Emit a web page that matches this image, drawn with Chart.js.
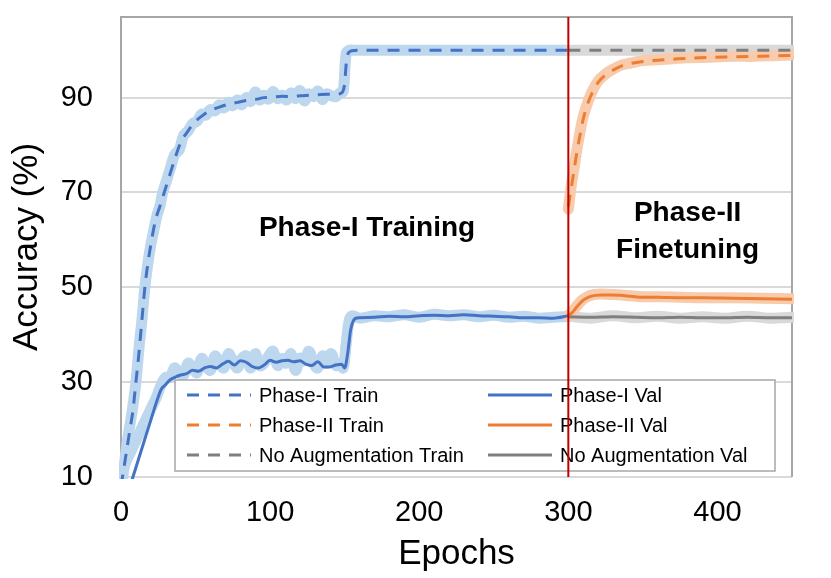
<!DOCTYPE html>
<html lang="en">
<head>
<meta charset="UTF-8">
<title>Accuracy vs Epochs</title>
<script src="https://cdn.jsdelivr.net/npm/chart.js"></script>
<style>
  html, body { margin: 0; padding: 0; background: #fff; }
  #wrap { width: 831px; height: 578px; }
</style>
</head>
<body>
<div id="wrap"><canvas id="accChart" width="831" height="578"></canvas></div>
<script>
// ---- data ----
const phaseSwitch = 300;
const xTicks = [0, 100, 200, 300, 400];
const yTicks = [10, 30, 50, 70, 90];

// Phase-I train (smoothed, dashed) and raw (light band)
const p1TrainEpochs = [0,2,4,6,8,10,12,14,16,18,20,23,26,29,32,36,40,45,50,55,60,66,72,78,84,90,96,102,108,114,120,126,132,138,144,148,150,151,152,153,155,160,200,250,300];
const p1TrainAcc    = [8,12,16,20,24,30,36,43,50,55,59,64,67,70,73,77,80.5,83,85,86.3,87.3,88,88.6,89,89.4,89.6,90,90.1,90.3,90.2,90.4,90.5,90.6,90.7,90.7,91,93,97,99,99.6,99.9,100,100,100,100];
const p1TrainRawEpochs = [0,2,4,6,8,10,12,14,16,18,20,22,24,26,28,30,33,36,39,42,45,48,51,54,57,60,63,66,69,72,75,78,81,84,87,90,93,96,99,102,105,108,111,114,117,120,123,126,129,132,135,138,141,144,147,149,151,153,156,160,200,250,300];
const p1TrainRawAcc    = [7,12,17,21,25,30,37,43,50,55,59,62,65,67,70,72,75,78,79,82,83,84.5,85,86.5,86.3,87.5,87.2,88.5,87.8,89,88.3,89.5,88.5,90,89.2,91.2,89.5,90.5,89.7,91.3,89.8,90.5,89.5,91,89.8,91.5,89.3,90.8,90.2,91.4,89.6,90.8,90.4,90.2,91,91.3,99.3,100,100,100,100,100,100];

// Phase-I val
const p1ValEpochs = [0,4,8,12,16,20,24,27,30,33,36,40,44,48,52,56,60,64,68,72,76,80,84,88,92,96,100,104,108,112,116,120,124,128,132,136,140,144,148,150,152,154,157,160,170,180,190,200,210,220,230,240,250,260,270,280,290,300];
const p1ValAcc    = [2,6,10,14,18,22,26,28.5,29.5,30.5,31,31.5,31.8,32.5,32.3,33,33.3,33,33.8,34.4,33.6,34.5,34.2,33.3,33,33.6,34.6,34.2,34.5,34.6,34.3,34.5,33.8,33.5,34.3,33.2,33.2,33.6,33.8,33,36,41,43.4,43.6,43.7,43.9,43.8,44,44.1,44,44.2,44,43.9,43.8,43.6,43.6,43.5,44];
const p1ValRawEpochs = [0,3,6,9,12,15,18,21,24,27,30,33,36,39,42,45,48,51,54,57,60,63,66,69,72,75,78,81,84,87,90,93,96,99,102,105,108,111,114,117,120,123,126,129,132,135,138,141,144,147,149,151,153,155,160,170,180,190,200,210,220,230,240,250,260,270,280,290,300];
const p1ValRawAcc    = [10,13,15,17,19,21,23,25,27,29.5,31,31,33,32,31.5,34,33,32,35,33.5,32.5,35.5,34,33,36,34.5,33,35,35.5,33,36,33.5,34,35.5,36.5,33.5,35,34,36,32.5,35,34.5,36.5,34,33,35.5,34,36,33.5,34,33,38,43,44,43.5,44,43.8,44.2,43.7,44.3,44,44.2,43.8,44.1,43.7,43.9,43.5,43.7,43.8];

// Phase-II train / val
const p2TrainEpochs = [300,302,304,306,308,310,313,316,320,325,330,336,342,350,360,370,380,395,410,425,440,450];
const p2TrainAcc    = [67,71,75,79,82.4,85.5,88.7,91,93.2,94.8,95.8,96.7,97.2,97.6,97.9,98.1,98.3,98.5,98.6,98.7,98.8,98.9];
const p2TrainRawAcc = [66.5,71.5,75.5,79.5,83,86,89,91.3,93.5,95,96,96.9,97.3,97.8,98,98.2,98.4,98.5,98.7,98.7,98.9,99];
const p2ValEpochs = [300,303,306,310,314,318,322,328,335,342,350,360,375,390,410,430,450];
const p2ValAcc    = [44,44.8,46,47.3,48,48.3,48.4,48.4,48.3,48.1,47.9,47.9,47.8,47.8,47.7,47.6,47.5];
const p2ValRawAcc = [44,45,46.2,47.5,48.2,48.5,48.6,48.5,48.4,48.2,48,48,47.9,47.8,47.8,47.7,47.6];

// No augmentation (visible after the switch)
const noAugEpochs   = [300,315,330,345,360,375,390,405,420,435,450];
const noAugTrainAcc = [100,100,100,100,100,100,100,100,100,100,100];
const noAugValAcc   = [43.8,43.7,43.8,43.7,43.6,43.7,43.6,43.6,43.7,43.6,43.6];
const noAugValRaw   = [43.9,43.5,44,43.6,43.9,43.5,43.8,43.5,43.9,43.5,43.7];

const legendLabels = ['Phase-I Train', 'Phase-II Train', 'No Augmentation Train',
                      'Phase-I Val', 'Phase-II Val', 'No Augmentation Val'];

// ---- colours ----
const BLUE = '#4472c4', ORANGE = '#ed7d31', GRAY = '#7f7f7f';
const BLUE_L = '#bdd7ee', ORANGE_L = '#f8cbad', GRAY_L = '#d9d9d9';
const DASH = [12, 9];

function pts(xs, ys) { return xs.map((x, i) => ({ x: x, y: ys[i] })); }

function line(label, xs, ys, color, dashed) {
  return {
    label: label, data: pts(xs, ys), borderColor: color, borderWidth: 3,
    borderDash: dashed ? DASH : [], pointRadius: 0, tension: 0.3,
    cubicInterpolationMode: 'monotone', fill: false, clip: 2
  };
}
function band(xs, ys, color) {
  return {
    label: '', data: pts(xs, ys), borderColor: color, borderWidth: 11,
    borderCapStyle: 'round', borderJoinStyle: 'round', pointRadius: 0,
    tension: 0.4, fill: false, clip: 2
  };
}

// index 0 is drawn last (on top)
const datasets = [
  { label: '', data: [{ x: phaseSwitch, y: 10 }, { x: phaseSwitch, y: 107 }],
    borderColor: '#c00000', borderWidth: 2, pointRadius: 0, clip: 0 },
  line(legendLabels[0], p1TrainEpochs, p1TrainAcc, BLUE, true),
  line(legendLabels[1], p2TrainEpochs, p2TrainAcc, ORANGE, true),
  line(legendLabels[2], noAugEpochs, noAugTrainAcc, GRAY, true),
  line(legendLabels[3], p1ValEpochs, p1ValAcc, BLUE, false),
  line(legendLabels[4], p2ValEpochs, p2ValAcc, ORANGE, false),
  line(legendLabels[5], noAugEpochs, noAugValAcc, GRAY, false),
  band(p2TrainEpochs, p2TrainRawAcc, ORANGE_L),
  band(p2ValEpochs, p2ValRawAcc, ORANGE_L),
  band(noAugEpochs, noAugValRaw, GRAY_L),
  band(noAugEpochs, noAugTrainAcc, GRAY_L),
  band(p1ValRawEpochs, p1ValRawAcc, BLUE_L),
  band(p1TrainRawEpochs, p1TrainRawAcc, BLUE_L)
];

const FONT = '"Liberation Sans", Arial, sans-serif';

function drawLegend(chart) {
  const ctx = chart.ctx, a = chart.chartArea;
  const bx = a.left + 54, by = a.top + 363, bw = 600, bh = 91;
  ctx.save();
  ctx.fillStyle = '#fff';
  ctx.fillRect(bx, by, bw, bh);
  ctx.strokeStyle = '#a6a6a6';
  ctx.lineWidth = 1.5;
  ctx.strokeRect(bx, by, bw, bh);
  ctx.font = '20px ' + FONT;
  ctx.textBaseline = 'middle';
  ctx.fillStyle = '#000';
  const colors = [BLUE, ORANGE, GRAY];
  for (let c = 0; c < 2; c++) {
    const lx = bx + (c === 0 ? 12 : 313);
    for (let r = 0; r < 3; r++) {
      const ly = by + 15 + r * 30;
      ctx.beginPath();
      ctx.strokeStyle = colors[r];
      ctx.lineWidth = 3;
      ctx.setLineDash(c === 0 ? DASH : []);
      ctx.moveTo(lx, ly);
      ctx.lineTo(lx + 64, ly);
      ctx.stroke();
      ctx.setLineDash([]);
      ctx.fillText(legendLabels[c * 3 + r], lx + 72, ly + 1);
    }
  }
  ctx.restore();
}

const overlay = {
  id: 'overlay',
  beforeDatasetsDraw(chart) {
    const ctx = chart.ctx, a = chart.chartArea;
    ctx.save();
    ctx.strokeStyle = '#d9d9d9';
    ctx.lineWidth = 2;
    ctx.beginPath();
    ctx.moveTo(a.left, a.bottom); ctx.lineTo(a.right, a.bottom);
    ctx.stroke();
    ctx.strokeStyle = '#a6a6a6';
    ctx.beginPath();
    ctx.moveTo(a.left, a.bottom); ctx.lineTo(a.left, a.top);
    ctx.lineTo(a.right, a.top); ctx.lineTo(a.right, a.bottom);
    ctx.stroke();
    ctx.restore();
  },
  beforeDatasetDraw(chart, args) {
    if (args.index === 0) drawLegend(chart);
  },
  afterDraw(chart) {
    const ctx = chart.ctx, xs = chart.scales.x, ys = chart.scales.y;
    ctx.save();
    ctx.fillStyle = '#000';
    ctx.font = 'bold 28px ' + FONT;
    ctx.textAlign = 'center';
    ctx.textBaseline = 'middle';
    ctx.fillText('Phase-I Training', xs.getPixelForValue(165), ys.getPixelForValue(62.5));
    ctx.fillText('Phase-II', xs.getPixelForValue(380), ys.getPixelForValue(65.6));
    ctx.fillText('Finetuning', xs.getPixelForValue(380), ys.getPixelForValue(57.9));
    ctx.restore();
  }
};

const ctx = document.getElementById('accChart').getContext('2d');
new Chart(ctx, {
  type: 'line',
  data: { datasets: datasets },
  plugins: [overlay],
  options: {
    responsive: false,
    animation: false,
    events: [],
    layout: { padding: { left: 0, top: 17, right: 39, bottom: 0 } },
    plugins: { legend: { display: false }, tooltip: { enabled: false } },
    scales: {
      x: {
        type: 'linear', min: 0, max: 450,
        afterBuildTicks: s => { s.ticks = xTicks.map(v => ({ value: v })); },
        afterFit: s => { s.height = 101; s.paddingLeft = 0; s.paddingRight = 0; },
        grid: { display: false, drawTicks: false },
        border: { display: false },
        ticks: { font: { size: 29, family: FONT }, color: '#000', padding: 19, maxRotation: 0 },
        title: { display: true, text: 'Epochs', color: '#000',
                 font: { size: 35, family: FONT }, padding: { top: 0, bottom: 3 } }
      },
      y: {
        type: 'linear', min: 10, max: 107,
        afterBuildTicks: s => { s.ticks = yTicks.map(v => ({ value: v })); },
        afterFit: s => { s.width = 121; s.paddingTop = 0; s.paddingBottom = 0; },
        grid: { color: '#d9d9d9', lineWidth: 2, drawTicks: false },
        border: { display: false },
        ticks: { font: { size: 29, family: FONT }, color: '#000', padding: 28 },
        title: { display: true, text: 'Accuracy (%)', color: '#000',
                 font: { size: 35, family: FONT }, padding: { top: 6, bottom: 0 } }
      }
    }
  }
});
</script>
</body>
</html>
